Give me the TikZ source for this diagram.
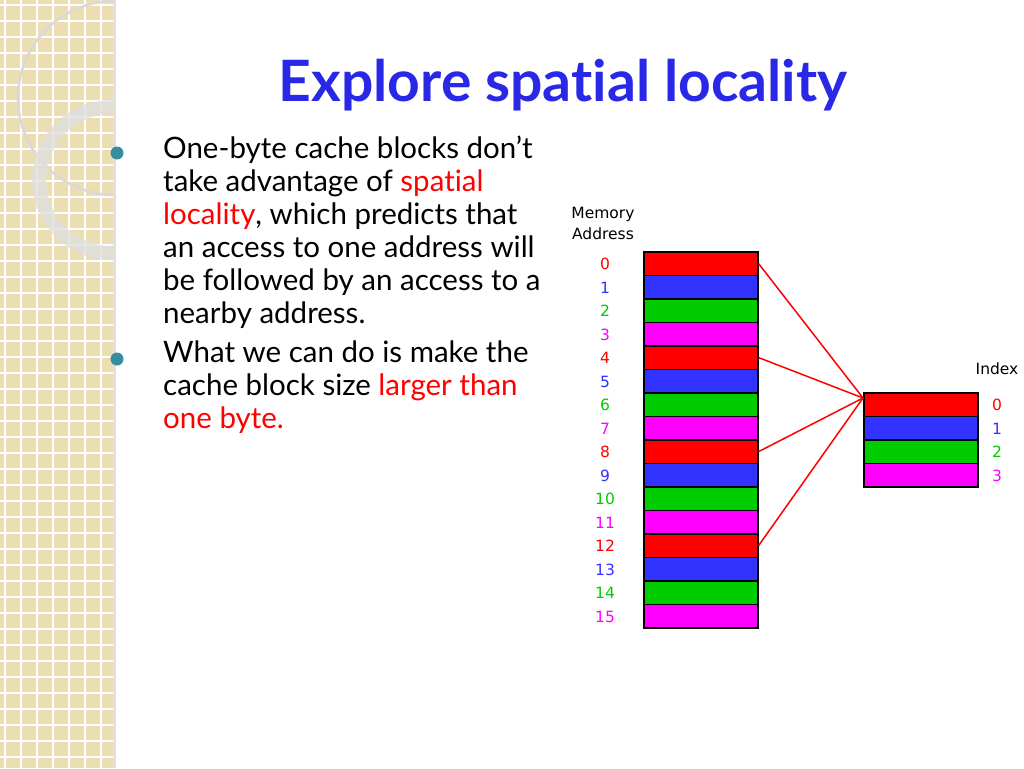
\documentclass[tikz,border=0pt]{standalone}
\usepackage{fontspec}
\setmainfont{Lato}[Ligatures=NoCommon]
\newfontfamily\diag{DejaVu Sans}
\begin{document}
\begin{tikzpicture}[x=1pt,y=-1pt,
  mem/.style={draw=black,line width=1.6pt,minimum width=114pt,minimum height=23.6pt,inner sep=0pt,anchor=north west},
  lbl/.style={font=\diag\fontsize{15.5}{21}\selectfont},
  body/.style={font=\fontsize{29.5}{33}\selectfont,anchor=north west,align=left,inner sep=0pt},
  link/.style={draw=red,line width=1.5pt}]
\useasboundingbox (0,0) rectangle (1024,768);
\fill[white] (0,0) rectangle (1024,768);
\definecolor{beige}{RGB}{236,222,178}
\definecolor{teal}{RGB}{56,140,160}
\definecolor{tblue}{RGB}{40,40,230}
\definecolor{mred}{RGB}{255,0,0}\definecolor{mblue}{RGB}{51,51,255}
\definecolor{mgreen}{RGB}{0,204,0}\definecolor{mmag}{RGB}{255,0,255}
% left strip
\fill[beige] (0,0) rectangle (113,768);
\foreach \i in {0,...,7} \draw[white,line width=1.3pt] (\i*16+5,0) -- (\i*16+5,768);
\foreach \j in {0,...,48} \draw[white,line width=1.3pt] (0,\j*16+5) -- (113,\j*16+5);
\fill[gray!40,opacity=0.6] (113,0) rectangle (116,768);
\begin{scope}
\clip (0,0) rectangle (113,768);
\draw[white!85!black,line width=2.5pt] (115,98) circle (97);
\draw[gray!25,opacity=0.8,line width=14pt] (112,180) circle (73);
\end{scope}
% title
\node[font=\bfseries\fontsize{57}{57}\selectfont,text=tblue] (title) at (563,85) {Explore spatial locality};
% bullets
\fill[teal] (117,153) circle (6.5);
\fill[teal] (117,359) circle (6.5);
\node[body] (t1) at (163,136) {One-byte cache blocks don’t\\take advantage of \textcolor{red}{spatial}\\\textcolor{red}{locality}, which predicts that\\an access to one address will\\be followed by an access to a\\nearby address.};
\node[body] (t2) at (163,341) {What we can do is make the\\cache block size \textcolor{red}{larger than}\\\textcolor{red}{one byte.}};
% memory
\node[lbl,align=center] (mhead) at (603,223) {Memory\\Address};
\foreach \i/\c in {0/mred,1/mblue,2/mgreen,3/mmag,4/mred,5/mblue,6/mgreen,7/mmag,8/mred,9/mblue,10/mgreen,11/mmag,12/mred,13/mblue,14/mgreen,15/mmag}{
  \node[mem,fill=\c] (m\i) at (643,251+\i*23.5) {};
  \node[lbl,text=\c] (ml\i) at (605,251+\i*23.5+13) {\i};
}
\node[lbl] (ihead) at (997,369) {Index};
\foreach \i/\c in {0/mred,1/mblue,2/mgreen,3/mmag}{
  \node[mem,fill=\c] (c\i) at (863,392+\i*23.5) {};
  \node[lbl,text=\c] (cl\i) at (997,392+\i*23.5+13) {\i};
}
\coordinate (hub) at (863,398);
\foreach \i in {0,4,8,12} \draw[link] (m\i.east) -- (hub);
\end{tikzpicture}
\end{document}
